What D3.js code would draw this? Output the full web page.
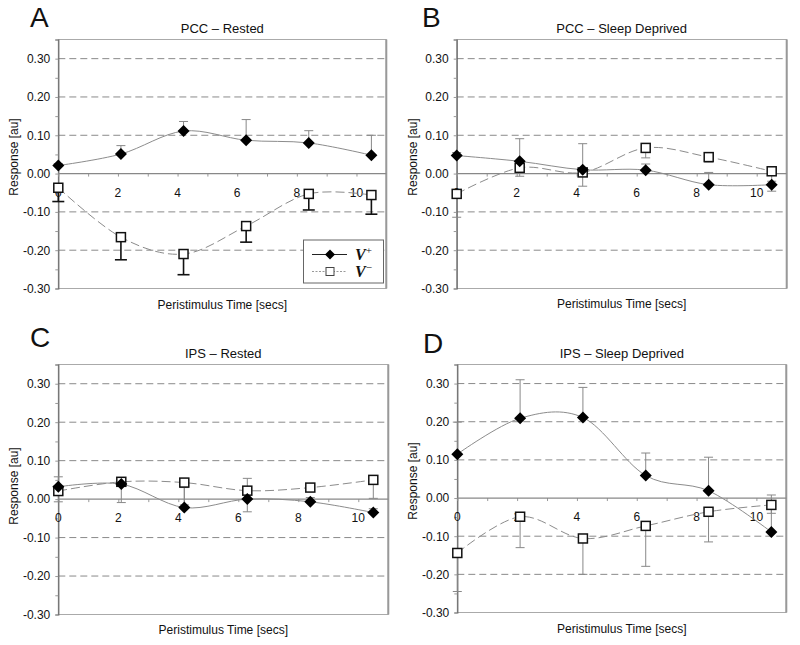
<!DOCTYPE html>
<html>
<head>
<meta charset="utf-8">
<script src="https://cdn.jsdelivr.net/npm/d3@7"></script>
<style>
  html, body { margin: 0; padding: 0; background: #fff; }
  svg { display: block; }
  text { font-family: "Liberation Sans", Arial, sans-serif; fill: #111; }
</style>
</head>
<body>
<svg id="chart" width="800" height="645"></svg>
<script>
// ---------- data ----------
const times = [0, 2.1, 4.2, 6.3, 8.4, 10.5];
const xTicks = [0, 2, 4, 6, 8, 10];
const yTicks = [0.30, 0.20, 0.10, 0.00, -0.10, -0.20, -0.30];
const yGrid = [0.30, 0.20, 0.10, -0.10, -0.20];
const panelLetters = ["A", "B", "C", "D"];
const panelTitles = ["PCC \u2013 Rested", "PCC \u2013 Sleep Deprived", "IPS \u2013 Rested", "IPS \u2013 Sleep Deprived"];
const seriesNames = ["V+", "V\u2212"];

// PCC – Rested
const vPlusA      = [0.021, 0.051, 0.111, 0.087, 0.080, 0.048];
const vPlusErrA   = [0.026, 0.073, 0.136, 0.141, 0.112, 0.100];
const vMinusA     = [-0.037, -0.166, -0.210, -0.137, -0.053, -0.056];
const vMinusErrA  = [-0.073, -0.225, -0.264, -0.179, -0.095, -0.106];
// PCC – Sleep Deprived
const vPlusB      = [0.047, 0.032, 0.010, 0.009, -0.029, -0.029];
const vPlusErrB   = [0.055, 0.091, 0.078, 0.025, 0.003, -0.020];
const vMinusB     = [-0.053, 0.015, 0.003, 0.067, 0.043, 0.006];
const vMinusErrB  = [-0.114, -0.007, -0.033, 0.041, 0.030, -0.046];
// IPS – Rested
const vPlusC      = [0.032, 0.039, -0.022, 0.000, -0.007, -0.035];
const vPlusErrC   = [0.058, 0.055, 0.030, 0.054, 0.004, -0.025];
const vMinusC     = [0.021, 0.045, 0.043, 0.022, 0.030, 0.050];
const vMinusErrC  = [-0.007, -0.009, -0.015, -0.033, 0.020, 0.002];
// IPS – Sleep Deprived
const vPlusD      = [0.115, 0.209, 0.211, 0.059, 0.019, -0.089];
const vPlusErrD   = [0.199, 0.310, 0.290, 0.118, 0.107, 0.008];
const vMinusD     = [-0.144, -0.049, -0.106, -0.073, -0.036, -0.018];
const vMinusErrD  = [-0.245, -0.130, -0.200, -0.179, -0.115, -0.040];

const plusSeries  = [vPlusA, vPlusB, vPlusC, vPlusD];
const plusErrs    = [vPlusErrA, vPlusErrB, vPlusErrC, vPlusErrD];
const minusSeries = [vMinusA, vMinusB, vMinusC, vMinusD];
const minusErrs   = [vMinusErrA, vMinusErrB, vMinusErrC, vMinusErrD];

// ---------- layout ----------
const layout = [
  {left: 58.3,  top: 39.5,  w: 328, h: 249, letterX: 30,  letterY: 27,  titleY: 33,  xTitleY: 309, yLabX: 13.5,  yLabY: 157},
  {left: 456.7, top: 39.5,  w: 330, h: 249, letterX: 422, letterY: 27,  titleY: 33,  xTitleY: 308, yLabX: 413,   yLabY: 157},
  {left: 58.3,  top: 364.5, w: 330, h: 250, letterX: 30,  letterY: 347, titleY: 358, xTitleY: 634, yLabX: 13.5,  yLabY: 486},
  {left: 457.3, top: 364.5, w: 329, h: 248, letterX: 423, letterY: 353, titleY: 358, xTitleY: 633, yLabX: 413,   yLabY: 481}
];

const svg = d3.select("#chart");
svg.append("rect").attr("width", 800).attr("height", 645).attr("fill", "#fff");

const diamond = d3.symbol().type(d3.symbolDiamond2 || d3.symbolSquare2);

layout.forEach((L, i) => {
  const x = d3.scaleLinear().domain([0, 11]).range([L.left, L.left + L.w]);
  const y = d3.scaleLinear().domain([-0.30, 0.35]).range([L.top + L.h, L.top]);
  const g = svg.append("g");

  // panel letter & title
  g.append("text").attr("x", L.letterX).attr("y", L.letterY)
    .attr("font-size", 28).text(panelLetters[i]);
  g.append("text").attr("x", L.left + L.w / 2).attr("y", L.titleY)
    .attr("text-anchor", "middle").attr("font-size", 13).text(panelTitles[i]);

  // plot frame
  g.append("rect").attr("x", L.left).attr("y", L.top).attr("width", L.w).attr("height", L.h)
    .attr("fill", "none").attr("stroke", "#aaa").attr("stroke-width", 1);
  g.append("line").attr("x1", L.left + L.w).attr("x2", L.left + L.w)
    .attr("y1", L.top).attr("y2", L.top + L.h).attr("stroke", "#999").attr("stroke-width", 2);

  // grid
  g.selectAll(".grid").data(yGrid).enter().append("line")
    .attr("x1", L.left).attr("x2", L.left + L.w)
    .attr("y1", d => y(d)).attr("y2", d => y(d))
    .attr("stroke", "#8a8a8a").attr("stroke-width", 1).attr("stroke-dasharray", "7,4");

  // y axis
  const yAxis = d3.axisLeft(y).tickValues(d3.range(-0.30, 0.351, 0.05)).tickSize(3).tickFormat("");
  const ya = g.append("g").attr("transform", `translate(${L.left},0)`).call(yAxis);
  ya.select(".domain").attr("stroke", "#666").attr("stroke-width", 1.2);
  ya.selectAll(".tick line").attr("stroke", "#999");
  g.selectAll(".ylab").data(yTicks).enter().append("text")
    .attr("x", L.left - 8).attr("y", d => y(d)).attr("dy", "0.36em")
    .attr("text-anchor", "end").attr("font-size", 12)
    .text(d => d3.format(".2f")(d).replace("\u2212", "-"));
  g.append("text")
    .attr("transform", `translate(${L.yLabX},${L.yLabY}) rotate(-90)`)
    .attr("dy", "0.36em").attr("text-anchor", "middle").attr("font-size", 12)
    .text("Response [au]");

  // x axis at zero
  const xAxis = d3.axisBottom(x).tickValues(d3.range(0, 11, 1)).tickSize(3).tickFormat("");
  const xa = g.append("g").attr("transform", `translate(0,${y(0)})`).call(xAxis);
  xa.select(".domain").remove();
  xa.selectAll(".tick line").attr("stroke", "#999");
  g.append("line").attr("x1", L.left).attr("x2", L.left + L.w)
    .attr("y1", y(0)).attr("y2", y(0)).attr("stroke", "#888").attr("stroke-width", 1.2);
  g.selectAll(".xlab").data(xTicks).enter().append("text")
    .attr("x", d => x(d)).attr("y", y(0) + 23)
    .attr("text-anchor", "middle").attr("font-size", 12).text(d => d);
  g.append("text").attr("x", L.left + L.w / 2).attr("y", L.xTitleY)
    .attr("text-anchor", "middle").attr("font-size", 12).text("Peristimulus Time [secs]");

  const plus = times.map((t, k) => ({t, v: plusSeries[i][k], e: plusErrs[i][k]}));
  const minus = times.map((t, k) => ({t, v: minusSeries[i][k], e: minusErrs[i][k]}));

  const line = d3.line().x(d => x(d.t)).y(d => y(d.v)).curve(d3.curveCardinal.tension(0));

  // error bars
  const errColorMinus = i === 0 ? "#111" : "#888";
  const errWidthMinus = i === 0 ? 1.6 : 1;
  const capMinus = i === 0 ? 6 : 4.5;
  function errBars(data, color, width, cap) {
    const eg = g.append("g").attr("stroke", color).attr("stroke-width", width);
    eg.selectAll(".eb").data(data).enter().append("line")
      .attr("x1", d => x(d.t)).attr("x2", d => x(d.t))
      .attr("y1", d => y(d.v)).attr("y2", d => y(d.e));
    eg.selectAll(".ec").data(data).enter().append("line")
      .attr("x1", d => x(d.t) - cap).attr("x2", d => x(d.t) + cap)
      .attr("y1", d => y(d.e)).attr("y2", d => y(d.e));
  }
  errBars(minus, errColorMinus, errWidthMinus, capMinus);
  errBars(plus, "#888", 1, 4.5);

  // lines
  g.append("path").datum(minus).attr("d", line).attr("fill", "none")
    .attr("stroke", "#8c8c8c").attr("stroke-width", 1).attr("stroke-dasharray", "9,4");
  g.append("path").datum(plus).attr("d", line).attr("fill", "none")
    .attr("stroke", "#8c8c8c").attr("stroke-width", 1);

  // markers
  g.selectAll(".sq").data(minus).enter().append("rect")
    .attr("x", d => x(d.t) - 4.5).attr("y", d => y(d.v) - 4.5)
    .attr("width", 9).attr("height", 9)
    .attr("fill", "#fff").attr("stroke", "#111").attr("stroke-width", 1.5);
  g.selectAll(".dm").data(plus).enter().append("path")
    .attr("transform", d => `translate(${x(d.t)},${y(d.v)})`)
    .attr("d", "M0,-6L6,0L0,6L-6,0Z").attr("fill", "#000");

  // legend (panel A only)
  if (i === 0) {
    const lg = g.append("g");
    lg.append("rect").attr("x", 303.5).attr("y", 240).attr("width", 80).attr("height", 43)
      .attr("fill", "#fff").attr("stroke", "#666").attr("stroke-width", 1);
    lg.append("line").attr("x1", 312).attr("x2", 347).attr("y1", 254.5).attr("y2", 254.5)
      .attr("stroke", "#222").attr("stroke-width", 1.2);
    lg.append("path").attr("transform", "translate(330,254.5)")
      .attr("d", "M0,-5L5,0L0,5L-5,0Z").attr("fill", "#000");
    lg.append("line").attr("x1", 312).attr("x2", 347).attr("y1", 271.5).attr("y2", 271.5)
      .attr("stroke", "#999").attr("stroke-width", 1).attr("stroke-dasharray", "2,1.5");
    lg.append("rect").attr("x", 326).attr("y", 267.5).attr("width", 8).attr("height", 8)
      .attr("fill", "#fff").attr("stroke", "#444").attr("stroke-width", 1);
    const names = [{base: "V", sup: "+", yy: 259.5}, {base: "V", sup: "\u2212", yy: 276.5}];
    names.forEach((n, k) => {
      const t = lg.append("text").attr("x", 355).attr("y", n.yy)
        .style("font-family", "'Liberation Serif', 'Times New Roman', serif")
        .attr("font-size", 16).attr("font-style", "italic").attr("font-weight", "bold");
      t.append("tspan").text(n.base);
      t.append("tspan").attr("dy", -6).attr("font-size", 11).attr("font-style", "normal")
        .attr("font-weight", "normal").text(n.sup);
      t.append("title").text(seriesNames[k]);
    });
  }
});
</script>
</body>
</html>
